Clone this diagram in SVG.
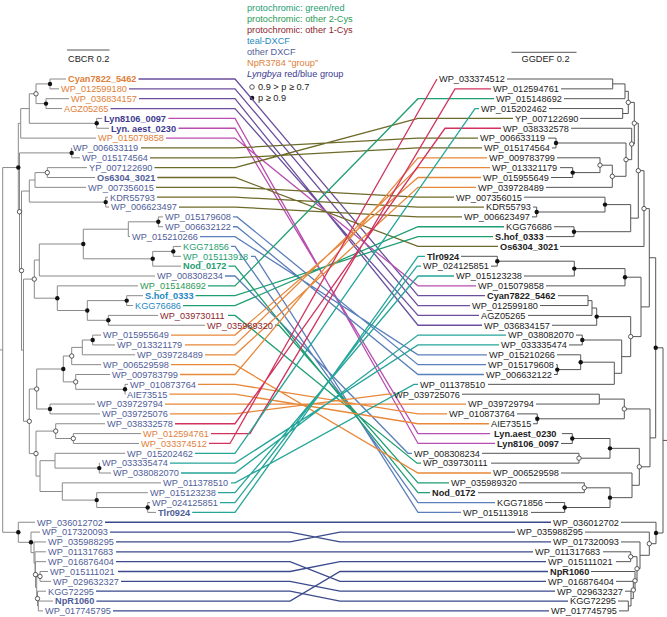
<svg xmlns="http://www.w3.org/2000/svg" width="667" height="617" viewBox="0 0 667 617">
<style>
text{font-family:"Liberation Sans",Arial,sans-serif;font-size:9.2px}
.b{font-weight:bold}
.or{fill:#e0803a}.ind{fill:#3d3a8f}.sl{fill:#4f5d98}.gr{fill:#1f9e72}.g2{fill:#2a9a55}.tl{fill:#2489c2}.mr{fill:#8c1f2e}.rk{fill:#222}
.lt{fill:none;stroke:#8a8a8a;stroke-width:1}
.rt{fill:none;stroke:#555;stroke-width:1}
.c{fill:none;stroke-width:1.3}
.dk{fill:#111}.op{fill:#fff;stroke:#333;stroke-width:0.8}
</style>
<g id="legend">
<text x="247" y="11" fill="#1f9e72">protochromic: green/red</text>
<text x="247" y="22" fill="#2a9a55">protochromic: other 2-Cys</text>
<text x="247" y="33" fill="#8c1f2e">protochromic: other 1-Cys</text>
<text x="247" y="44" fill="#2489c2">teal-DXCF</text>
<text x="247" y="55" fill="#4f5d98">other DXCF</text>
<text x="247" y="66" fill="#e0803a">NpR3784 “group”</text>
<text x="247" y="77" fill="#3d3a8f"><tspan font-style="italic">Lyngbya</tspan> red/blue group</text>
<circle class="op" cx="252" cy="87" r="2.3"/><text x="258" y="90" fill="#222">0.9 &gt; p ≥ 0.7</text>
<circle class="dk" cx="252" cy="98" r="2.3"/><text x="258" y="101" fill="#222">p ≥ 0.9</text>
</g>
<g id="scalebars">
<path class="rt" d="M67 50H109.5 M511.5 52.3H576.5"/>
<text x="68" y="62" fill="#222">CBCR 0.2</text>
<text x="521.5" y="62.3" fill="#222">GGDEF 0.2</text>
</g>
<g id="left-tree" class="lt">
<path d="M50 79V88.85 M50 79H66 M50 88.85H59 M46 98.7V108.55 M46 98.7H69 M46 108.55H62 M36 83.9V103.6 M36 83.9H50 M36 103.6H46 M96.7 118.4V128.25 M96.7 118.4H102 M96.7 128.25H109 M29.3 93.8V123.3 M29.3 93.8H36 M29.3 123.3H96.7 M20.7 108.6V138.1 M20.7 108.6H29.3 M20.7 138.1H96"/>
<path d="M71.7 147.95V157.8 M71.7 147.95H72 M71.7 157.8H80 M47.3 167.65V177.5 M47.3 167.65H87 M47.3 177.5H95 M35 172.6V187.35 M35 172.6H47.3 M35 187.35H86 M105.7 197.2V207.05 M105.7 197.2H108 M105.7 207.05H109 M29.3 180V202.1 M29.3 180H35 M29.3 202.1H105.7"/>
<path d="M158.3 216.9V226.75 M158.3 216.9H163 M158.3 226.75H163 M128.3 221.8V236.6 M128.3 221.8H158.3 M128.3 236.6H130 M173.3 246.45V256.3 M173.3 246.45H181 M173.3 256.3H181 M152.7 251.4V266.15 M152.7 251.4H173.3 M152.7 266.15H181 M83.3 229.2V258.8 M83.3 229.2H128.3 M83.3 258.8H152.7 M39.3 244V276 M39.3 244H83.3 M39.3 276H155"/>
<path d="M126.7 295.7V305.55 M126.7 295.7H143 M126.7 305.55H133 M108.3 315.4V325.25 M108.3 315.4H158 M108.3 325.25H205 M87.3 300.6V320.3 M87.3 300.6H126.7 M87.3 320.3H108.3 M57.3 285.85V310.5 M57.3 285.85H138 M57.3 310.5H87.3 M34.3 260V298.2 M34.3 260H39.3 M34.3 298.2H57.3"/>
<path d="M92.7 335.1V344.95 M92.7 335.1H101 M92.7 344.95H115 M82.3 340V354.8 M82.3 340H92.7 M82.3 354.8H135 M71.7 347.4V364.65 M71.7 347.4H82.3 M71.7 364.65H101 M125 384.35V394.2 M125 384.35H128 M125 394.2H125.5 M75.7 374.5V389.3 M75.7 374.5H110 M75.7 389.3H125 M63.3 356V381.9 M63.3 356H71.7 M63.3 381.9H75.7 M50 404.05V413.9 M50 404.05H95 M50 413.9H100 M36.7 369V409 M36.7 369H63.3 M36.7 409H50"/>
<path d="M73.3 433.6V443.45 M73.3 433.6H141 M73.3 443.45H139 M55.7 423.75V438.5 M55.7 423.75H105 M55.7 438.5H73.3 M99.3 463.15V473 M99.3 463.15H100 M99.3 473H111 M55 453.3V468.1 M55 453.3H125 M55 468.1H99.3 M147.7 502.55V512.4 M147.7 502.55H150 M147.7 512.4H156 M96.7 492.7V507.5 M96.7 492.7H148 M96.7 507.5H147.7 M62.3 482.85V500.1 M62.3 482.85H161 M62.3 500.1H96.7 M40 460.7V491.5 M40 460.7H55 M40 491.5H62.3 M36 431.1V476.1 M36 431.1H55.7 M36 476.1H40 M29.3 389V453.6 M29.3 389H36.7 M29.3 453.6H36"/>
<path d="M23.5 279.1V421.3 M23.5 279.1H34.3 M23.5 421.3H29.3 M21.5 191.05V350.2 M21.5 191.05H29.3 M21.5 350.2H23.5 M19.5 152.9V270.6 M19.5 152.9H71.7 M19.5 270.6H21.5 M18.3 123.35V211.75 M18.3 123.35H20.7 M18.3 211.75H19.5"/>
<path d="M38.3 601.05V610.9 M38.3 601.05H53 M38.3 610.9H43 M37.5 591.2V606 M37.5 591.2H46 M37.5 606H38.3 M40 571.5V581.35 M40 571.5H48 M40 581.35H51 M36.7 576.4V598.6 M36.7 576.4H40 M36.7 598.6H37.5 M35.5 561.65V587.5 M35.5 561.65H46 M35.5 587.5H36.7 M35 551.8V574.6 M35 551.8H46 M35 574.6H35.5 M34 541.95V563.2 M34 541.95H46 M34 563.2H35 M31 532.1V552.6 M31 532.1H40 M31 552.6H34 M18.3 522.25V542.3 M18.3 522.25H35 M18.3 542.3H31"/>
<path d="M2.7 167.55V532.3 M2.7 167.55H18.3 M2.7 532.3H18.3 M0 349.9H2.7"/>
</g>
<g id="right-tree" class="rt">
<path d="M612.7 79V88.85 M507 79H612.7 M561 88.85H612.7 M625 83.9V98.7 M612.7 83.9H625 M564 98.7H625 M622.7 108.55V118.4 M549 108.55H622.7 M580 118.4H622.7 M628.3 91.3V113.5 M625 91.3H628.3 M622.7 113.5H628.3"/>
<path d="M556 138.1V147.95 M548 138.1H556 M552 147.95H556 M572.7 167.65V177.5 M560 167.65H572.7 M551 177.5H572.7 M600 157.8V172.6 M557 157.8H600 M572.7 172.6H600 M612.3 165.2V187.35 M600 165.2H612.3 M546 187.35H612.3 M626 143V176.3 M556 143H626 M612.3 176.3H626 M631.7 128.25V159.65 M571 128.25H631.7 M626 159.65H631.7 M634.3 102.4V144 M628.3 102.4H634.3 M631.7 144H634.3"/>
<path d="M536.7 207.05V216.9 M533 207.05H536.7 M532 216.9H536.7 M605 197.2V212 M524 197.2H605 M536.7 212H605 M574 226.75V236.6 M554 226.75H574 M546 236.6H574 M630.7 204.6V231.7 M605 204.6H630.7 M574 231.7H630.7 M638.3 123.2V218.15 M634.3 123.2H638.3 M630.7 218.15H638.3 M644 170.7V246.45 M638.3 170.7H644 M560 246.45H644"/>
<path d="M497.3 256.3V266.15 M461 256.3H497.3 M491 266.15H497.3 M574.3 261.2V276 M497.3 261.2H574.3 M524 276H574.3 M625 268.6V285.85 M574.3 268.6H625 M546 285.85H625 M588 295.7V305.55 M558 295.7H588 M540 305.55H588 M592 300.6V315.4 M588 300.6H592 M528 315.4H592 M596.7 308V325.25 M592 308H596.7 M552 325.25H596.7"/>
<path d="M582.3 335.1V344.95 M576 335.1H582.3 M569 344.95H582.3 M557.3 364.65V374.5 M556 364.65H557.3 M554 374.5H557.3 M580.7 354.8V369.6 M557 354.8H580.7 M557.3 369.6H580.7 M614.3 362.2V384.35 M580.7 362.2H614.3 M488 384.35H614.3 M621.7 340V373.3 M582.3 340H621.7 M614.3 373.3H621.7 M630.7 316.6V356.65 M596.7 316.6H630.7 M621.7 356.65H630.7 M641 277.2V336.6 M625 277.2H641 M630.7 336.6H641 M649.3 208.6V306.9 M644 208.6H649.3 M641 306.9H649.3"/>
<path d="M599.3 394.2V404.05 M462 394.2H599.3 M536 404.05H599.3 M537.3 413.9V423.75 M517 413.9H537.3 M533 423.75H537.3 M624.3 399.1V418.8 M599.3 399.1H624.3 M537.3 418.8H624.3 M572.3 433.6V443.45 M562 433.6H572.3 M561 443.45H572.3 M579 453.3V463.15 M482 453.3H579 M491 463.15H579 M610 438.5V458.2 M572.3 438.5H610 M579 458.2H610"/>
<path d="M584.3 482.85V492.7 M519 482.85H584.3 M478 492.7H584.3 M564.7 502.55V512.4 M545 502.55H564.7 M531 512.4H564.7 M610 487.8V507.5 M584.3 487.8H610 M564.7 507.5H610 M632 473V497.65 M561 473H632 M610 497.65H632 M639.3 448.35V485.3 M610 448.35H639.3 M632 485.3H639.3 M650 408.95V466.8 M624.3 408.95H650 M639.3 466.8H650 M655.7 257.75V437.9 M649.3 257.75H655.7 M650 437.9H655.7"/>
<path d="M628.3 601.05V610.9 M618 601.05H628.3 M619 610.9H628.3 M631 591.2V606 M625 591.2H631 M628.3 606H631 M633.3 581.35V598.6 M616 581.35H633.3 M631 598.6H633.3 M635 571.5V590 M591 571.5H635 M633.3 590H635 M630.7 551.8V561.65 M603 551.8H630.7 M616 561.65H630.7 M637 556.7V580.75 M630.7 556.7H637 M635 580.75H637 M640 541.95V568.7 M621 541.95H640 M637 568.7H640 M649.3 532.1V555.3 M585 532.1H649.3 M640 555.3H649.3 M656 522.25V543.7 M621 522.25H656 M649.3 543.7H656 M663 347.8V533 M655.7 347.8H663 M656 533H663 M663 440.4H667"/>
</g>
<g id="connectors" class="c">
<path stroke="#6b4f9e" d="M138.5 79H235L418 295.7H485 M129 88.85H235L418 305.55H470 M139 98.7H235L418 325.25H482 M110.5 108.55H235L418 315.4H479"/>
<path stroke="#b84fb0" d="M168.4 118.4H235L418 443.45H495 M178.5 128.25H235L418 433.6H490 M166 138.1H235L418 285.85H476"/>
<path stroke="#6e6a2a" d="M141 147.95H235L418 138.1H478 M150 157.8H235L418 147.95H482 M154.4 167.65H235L418 118.4H513 M157.3 177.5H235L418 246.45H498 M156 187.35H235L418 197.2H454 M157 197.2H235L418 207.05H484 M179 207.05H235L418 216.9H462"/>
<path stroke="#5a7fba" d="M233 216.9H237L418 364.65H486 M233 226.75H237L418 374.5H484 M200 236.6H235L418 354.8H487 M231 246.45H235L418 502.55H495 M251 256.3H255L418 512.4H461 M225 276H235L408 453.3H412"/>
<path stroke="#1f9e72" d="M228.5 266.15H235L418 492.7H430 M208 285.85H235L418 98.7H494 M195.6 295.7H235L418 236.6H493 M183 305.55H235L418 226.75H504 M228 315.4H235L417 463.15H421 M275 325.25H279L418 482.85H449"/>
<path stroke="#e8883a" d="M171 335.1H235L418 177.5H481 M185 344.95H235L418 167.65H490 M205 354.8H235L418 187.35H476 M171 364.65H235L418 473H491 M180 374.5H235L418 157.8H487 M198 384.35H235L418 413.9H447 M169.4 394.2H235L418 423.75H489 M165 404.05H235L418 404.05H466 M170 413.9H235L388 394.2H392"/>
<path stroke="#d2335e" d="M175 423.75H235L445 128.25H501 M211 433.6H250L455 88.85H491 M209 443.45H230L437 79"/>
<path stroke="#26a59a" d="M195 453.3H235L475 108.55H479 M170 463.15H235L418 344.95H499 M181 473H235L418 335.1H506 M231 482.85H235L414 384.35H418 M218 492.7H235L418 276H454 M220 502.55H235L417 266.15H421 M192.2 512.4H235L418 256.3H425"/>
<path stroke="#3b4a8c" d="M105 522.25H551 M110 532.1H290L340 541.95H551 M116 541.95H290L340 532.1H515 M116 551.8H533 M116 561.65H290L340 581.35H546 M118 571.5H290L340 561.65H546 M121 581.35H290L340 591.2H555 M96 591.2H290L340 601.05H568 M96.4 601.05H290L340 571.5H548 M113 610.9H549"/>
</g>
<g id="left-labels">
<g id="l1"><text class="or b" x="68" y="82.3">Cyan7822_5462</text></g>
<g id="l2"><text class="or" x="61" y="92.15">WP_012599180</text></g>
<g id="l3"><text class="or" x="71" y="102">WP_036834157</text></g>
<g id="l4"><text class="or" x="64" y="111.85">AGZ05265</text></g>
<g id="l5"><text class="ind b" x="104" y="121.7">Lyn8106_0097</text></g>
<g id="l6"><text class="ind b" x="111" y="131.55">Lyn. aest_0230</text></g>
<g id="l7"><text class="or" x="98" y="141.4">WP_015079858</text></g>
<g id="l8"><text class="sl" x="73" y="151.25">WP_006633119</text></g>
<g id="l9"><text class="sl" x="82" y="161.1">WP_015174564</text></g>
<g id="l10"><text class="sl" x="89" y="170.95">YP_007122690</text></g>
<g id="l11"><text class="sl b" x="97" y="180.8">Os6304_3021</text></g>
<g id="l12"><text class="sl" x="88" y="190.65">WP_007356015</text></g>
<g id="l13"><text class="sl" x="110" y="200.5">KDR55793</text></g>
<g id="l14"><text class="sl" x="111" y="210.35">WP_006623497</text></g>
<g id="l15"><text class="sl" x="165" y="220.2">WP_015179608</text></g>
<g id="l16"><text class="sl" x="165" y="230.05">WP_006632122</text></g>
<g id="l17"><text class="sl" x="132" y="239.9">WP_015210266</text></g>
<g id="l18"><text class="gr" x="183" y="249.75">KGG71856</text></g>
<g id="l19"><text class="gr" x="183" y="259.6">WP_015113918</text></g>
<g id="l20"><text class="gr b" x="183" y="269.45">Nod_0172</text></g>
<g id="l21"><text class="sl" x="157" y="279.3">WP_008308234</text></g>
<g id="l22"><text class="g2" x="140" y="289.15">WP_015148692</text></g>
<g id="l23"><text class="tl b" x="145" y="299">S.hof_0333</text></g>
<g id="l24"><text class="tl" x="135" y="308.85">KGG76686</text></g>
<g id="l25"><text class="mr" x="160" y="318.7">WP_039730111</text></g>
<g id="l26"><text class="mr" x="207" y="328.55">WP_035989320</text></g>
<g id="l27"><text class="sl" x="103" y="338.4">WP_015955649</text></g>
<g id="l28"><text class="sl" x="117" y="348.25">WP_013321179</text></g>
<g id="l29"><text class="sl" x="137" y="358.1">WP_039728489</text></g>
<g id="l30"><text class="sl" x="103" y="367.95">WP_006529598</text></g>
<g id="l31"><text class="sl" x="112" y="377.8">WP_009783799</text></g>
<g id="l32"><text class="sl" x="130" y="387.65">WP_010873764</text></g>
<g id="l33"><text class="sl" x="127" y="397.5">AIE73515</text></g>
<g id="l34"><text class="sl" x="97" y="407.35">WP_039729794</text></g>
<g id="l35"><text class="sl" x="102" y="417.2">WP_039725076</text></g>
<g id="l36"><text class="sl" x="107" y="427.05">WP_038332578</text></g>
<g id="l37"><text class="or" x="143" y="436.9">WP_012594761</text></g>
<g id="l38"><text class="or" x="141" y="446.75">WP_033374512</text></g>
<g id="l39"><text class="sl" x="127" y="456.6">WP_015202462</text></g>
<g id="l40"><text class="sl" x="102" y="466.45">WP_033335474</text></g>
<g id="l41"><text class="sl" x="113" y="476.3">WP_038082070</text></g>
<g id="l42"><text class="sl" x="163" y="486.15">WP_011378510</text></g>
<g id="l43"><text class="sl" x="150" y="496">WP_015123238</text></g>
<g id="l44"><text class="sl" x="152" y="505.85">WP_024125851</text></g>
<g id="l45"><text class="sl b" x="158" y="515.7">Tlr0924</text></g>
<g id="l46"><text class="sl" x="37" y="525.55">WP_036012702</text></g>
<g id="l47"><text class="sl" x="42" y="535.4">WP_017320093</text></g>
<g id="l48"><text class="sl" x="48" y="545.25">WP_035988295</text></g>
<g id="l49"><text class="sl" x="48" y="555.1">WP_011317683</text></g>
<g id="l50"><text class="sl" x="48" y="564.95">WP_016876404</text></g>
<g id="l51"><text class="sl" x="50" y="574.8">WP_015111021</text></g>
<g id="l52"><text class="sl" x="53" y="584.65">WP_029632327</text></g>
<g id="l53"><text class="sl" x="48" y="594.5">KGG72295</text></g>
<g id="l54"><text class="sl b" x="55" y="604.35">NpR1060</text></g>
<g id="l55"><text class="sl" x="45" y="614.2">WP_017745795</text></g>
</g>
<g id="right-labels" class="rk">
<g id="r1"><text x="439" y="82.3">WP_033374512</text></g>
<g id="r2"><text x="493" y="92.15">WP_012594761</text></g>
<g id="r3"><text x="496" y="102">WP_015148692</text></g>
<g id="r4"><text x="481" y="111.85">WP_015202462</text></g>
<g id="r5"><text x="515" y="121.7">YP_007122690</text></g>
<g id="r6"><text x="503" y="131.55">WP_038332578</text></g>
<g id="r7"><text x="480" y="141.4">WP_006633119</text></g>
<g id="r8"><text x="484" y="151.25">WP_015174564</text></g>
<g id="r9"><text x="489" y="161.1">WP_009783799</text></g>
<g id="r10"><text x="492" y="170.95">WP_013321179</text></g>
<g id="r11"><text x="483" y="180.8">WP_015955649</text></g>
<g id="r12"><text x="478" y="190.65">WP_039728489</text></g>
<g id="r13"><text x="456" y="200.5">WP_007356015</text></g>
<g id="r14"><text x="486" y="210.35">KDR55793</text></g>
<g id="r15"><text x="464" y="220.2">WP_006623497</text></g>
<g id="r16"><text x="506" y="230.05">KGG76686</text></g>
<g id="r17"><text class="b" x="495" y="239.9">S.hof_0333</text></g>
<g id="r18"><text class="b" x="500" y="249.75">Os6304_3021</text></g>
<g id="r19"><text class="b" x="427" y="259.6">Tlr0924</text></g>
<g id="r20"><text x="423" y="269.45">WP_024125851</text></g>
<g id="r21"><text x="456" y="279.3">WP_015123238</text></g>
<g id="r22"><text x="478" y="289.15">WP_015079858</text></g>
<g id="r23"><text class="b" x="487" y="299">Cyan7822_5462</text></g>
<g id="r24"><text x="472" y="308.85">WP_012599180</text></g>
<g id="r25"><text x="481" y="318.7">AGZ05265</text></g>
<g id="r26"><text x="484" y="328.55">WP_036834157</text></g>
<g id="r27"><text x="508" y="338.4">WP_038082070</text></g>
<g id="r28"><text x="501" y="348.25">WP_033335474</text></g>
<g id="r29"><text x="489" y="358.1">WP_015210266</text></g>
<g id="r30"><text x="488" y="367.95">WP_015179608</text></g>
<g id="r31"><text x="486" y="377.8">WP_006632122</text></g>
<g id="r32"><text x="420" y="387.65">WP_011378510</text></g>
<g id="r33"><text x="394" y="397.5">WP_039725076</text></g>
<g id="r34"><text x="468" y="407.35">WP_039729794</text></g>
<g id="r35"><text x="449" y="417.2">WP_010873764</text></g>
<g id="r36"><text x="491" y="427.05">AIE73515</text></g>
<g id="r37"><text class="b" x="494" y="436.9">Lyn.aest_0230</text></g>
<g id="r38"><text class="b" x="497" y="446.75">Lyn8106_0097</text></g>
<g id="r39"><text x="414" y="456.6">WP_008308234</text></g>
<g id="r40"><text x="423" y="466.45">WP_039730111</text></g>
<g id="r41"><text x="493" y="476.3">WP_006529598</text></g>
<g id="r42"><text x="451" y="486.15">WP_035989320</text></g>
<g id="r43"><text class="b" x="432" y="496">Nod_0172</text></g>
<g id="r44"><text x="497" y="505.85">KGG71856</text></g>
<g id="r45"><text x="463" y="515.7">WP_015113918</text></g>
<g id="r46"><text x="553" y="525.55">WP_036012702</text></g>
<g id="r47"><text x="517" y="535.4">WP_035988295</text></g>
<g id="r48"><text x="553" y="545.25">WP_017320093</text></g>
<g id="r49"><text x="535" y="555.1">WP_011317683</text></g>
<g id="r50"><text x="548" y="564.95">WP_015111021</text></g>
<g id="r51"><text class="b" x="550" y="574.8">NpR1060</text></g>
<g id="r52"><text x="548" y="584.65">WP_016876404</text></g>
<g id="r53"><text x="557" y="594.5">WP_029632327</text></g>
<g id="r54"><text x="570" y="604.35">KGG72295</text></g>
<g id="r55"><text x="551" y="614.2">WP_017745795</text></g>
</g>
<g id="support-left">
<g class="dk"><circle cx="50" cy="83.9" r="2.2"/><circle cx="46" cy="103.6" r="2.2"/><circle cx="96.7" cy="123.3" r="2.2"/><circle cx="18.3" cy="167.55" r="2.2"/><circle cx="71.7" cy="152.9" r="2.2"/><circle cx="105.7" cy="202.1" r="2.2"/><circle cx="158.3" cy="221.8" r="2.2"/><circle cx="173.3" cy="251.4" r="2.2"/><circle cx="152.7" cy="258.8" r="2.2"/><circle cx="83.3" cy="244" r="2.2"/><circle cx="126.7" cy="300.6" r="2.2"/><circle cx="108.3" cy="320.3" r="2.2"/><circle cx="87.3" cy="310.5" r="2.2"/><circle cx="57.3" cy="298.2" r="2.2"/><circle cx="92.7" cy="340" r="2.2"/><circle cx="125" cy="389.3" r="2.2"/><circle cx="63.3" cy="369" r="2.2"/><circle cx="50" cy="409" r="2.2"/><circle cx="99.3" cy="468.1" r="2.2"/><circle cx="147.7" cy="507.5" r="2.2"/><circle cx="96.7" cy="500.1" r="2.2"/><circle cx="18.3" cy="532.3" r="2.2"/><circle cx="31" cy="542.3" r="2.2"/></g>
<g class="op"><circle cx="36" cy="93.8" r="2.2"/><circle cx="47.3" cy="172.6" r="2.2"/><circle cx="19.5" cy="211.75" r="2.2"/><circle cx="21.5" cy="270.6" r="2.2"/><circle cx="34.3" cy="279.1" r="2.2"/><circle cx="71.7" cy="356" r="2.2"/><circle cx="75.7" cy="381.9" r="2.2"/><circle cx="36.7" cy="389" r="2.2"/><circle cx="73.3" cy="438.5" r="2.2"/><circle cx="55.7" cy="431.1" r="2.2"/><circle cx="36" cy="453.6" r="2.2"/><circle cx="29.3" cy="421.3" r="2.2"/><circle cx="35.5" cy="574.6" r="2.2"/><circle cx="40" cy="576.4" r="2.2"/><circle cx="37.5" cy="598.6" r="2.2"/></g>
</g>
<g id="support-right">
<g class="dk"><circle cx="556" cy="143" r="2.2"/><circle cx="572.7" cy="172.6" r="2.2"/><circle cx="536.7" cy="212" r="2.2"/><circle cx="605" cy="204.6" r="2.2"/><circle cx="574" cy="231.7" r="2.2"/><circle cx="497.3" cy="261.2" r="2.2"/><circle cx="574.3" cy="268.6" r="2.2"/><circle cx="625" cy="277.2" r="2.2"/><circle cx="596.7" cy="316.6" r="2.2"/><circle cx="582.3" cy="340" r="2.2"/><circle cx="557.3" cy="369.6" r="2.2"/><circle cx="580.7" cy="362.2" r="2.2"/><circle cx="655.7" cy="347.8" r="2.2"/><circle cx="537.3" cy="418.8" r="2.2"/><circle cx="572.3" cy="438.5" r="2.2"/><circle cx="610" cy="448.35" r="2.2"/><circle cx="564.7" cy="507.5" r="2.2"/><circle cx="610" cy="497.65" r="2.2"/><circle cx="656" cy="533" r="2.2"/></g>
<g class="op"><circle cx="628.3" cy="102.4" r="2.2"/><circle cx="631.7" cy="144" r="2.2"/><circle cx="626" cy="159.65" r="2.2"/><circle cx="600" cy="165.2" r="2.2"/><circle cx="612.3" cy="176.3" r="2.2"/><circle cx="634.3" cy="123.2" r="2.2"/><circle cx="638.3" cy="170.7" r="2.2"/><circle cx="644" cy="208.6" r="2.2"/><circle cx="630.7" cy="336.6" r="2.2"/><circle cx="624.3" cy="408.95" r="2.2"/><circle cx="579" cy="458.2" r="2.2"/><circle cx="584.3" cy="487.8" r="2.2"/><circle cx="639.3" cy="466.8" r="2.2"/><circle cx="649.3" cy="543.7" r="2.2"/><circle cx="630.7" cy="556.7" r="2.2"/><circle cx="637" cy="568.7" r="2.2"/><circle cx="635" cy="580.75" r="2.2"/><circle cx="633.3" cy="590" r="2.2"/></g>
</g>
</svg>
